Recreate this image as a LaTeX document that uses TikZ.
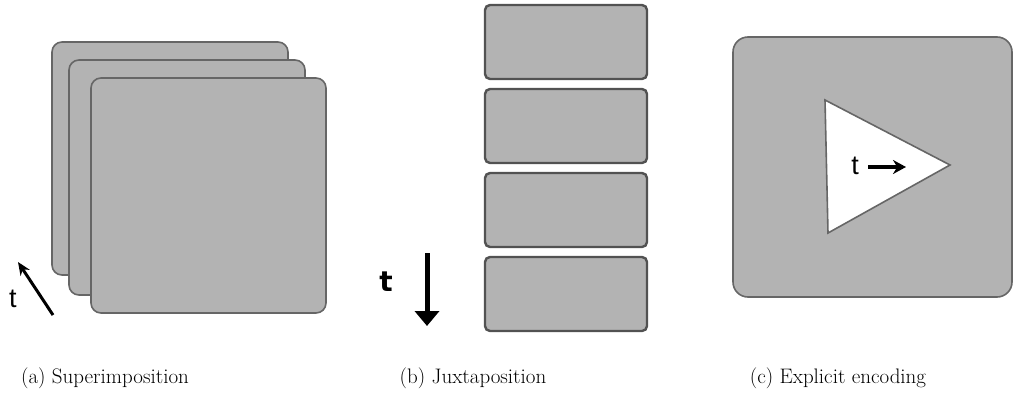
\documentclass[tikz,border=0pt]{standalone}
\usepackage{fontspec}
\newfontfamily\tfont{Liberation Sans}
\newfontfamily\tbold{DejaVu Sans}
\usetikzlibrary{arrows.meta}
\definecolor{cardfill}{HTML}{B3B3B3}
\definecolor{cardline}{HTML}{666666}
\tikzset{
  card/.style={draw=cardline, fill=cardfill, line width=1.6pt, rounded corners=10pt},
  jbox/.style={draw=cardline!80!black, fill=cardfill, line width=2.4pt, rounded corners=5pt},
  caption/.style={font=\fontsize{21}{24}\selectfont, anchor=center},
  tlabel/.style={font=\tfont\fontsize{27}{30}\selectfont, inner sep=0pt}
}
\begin{document}
\begin{tikzpicture}[x=1pt,y=-1pt]
\useasboundingbox (0,0) rectangle (1017,399);
% (a) Superimposition
\draw[card] (52,42) rectangle (288,275);
\draw[card] (69,60) rectangle (305,295);
\draw[card] (91,78) rectangle (326,313);
\coordinate (a1) at (53,315);
\coordinate (a2) at (18,262);
\draw[line width=3pt, -{Stealth[length=13pt,width=11pt]}] (a1) -- (a2);
\node[tlabel] (ta) at (13,299) {t};
% (b) Juxtaposition
\draw[jbox] (485,5) rectangle (647,79);
\draw[jbox] (485,89) rectangle (647,163);
\draw[jbox] (485,173) rectangle (647,247);
\draw[jbox] (485,257) rectangle (647,331);
\coordinate (b1) at (427,253);
\coordinate (b2) at (427,326);
\draw[line width=5pt, -{Triangle[length=15pt,width=24pt]}] (b1) -- (b2);
\node[font=\tbold\bfseries\fontsize{28}{30}\selectfont, inner sep=0pt] (tb) at (386,282) {t};
% (c) Explicit encoding
\draw[card, rounded corners=15pt] (733,37) rectangle (1012,297);
\draw[draw=cardline, fill=white, line width=1.6pt] (825,100) -- (950,165) -- (828,233) -- cycle;
\node[tlabel] (tc) at (855,166) {t};
\coordinate (c1) at (868,167);
\coordinate (c2) at (906,167);
\draw[line width=3.5pt, -{Stealth[length=13pt,width=14pt]}] (c1) -- (c2);
% captions
\node[caption] (capa) at (105,378) {(a) Superimposition};
\node[caption] (capb) at (473,378) {(b) Juxtaposition};
\node[caption] (capc) at (838,378) {(c) Explicit encoding};
\end{tikzpicture}
\end{document}
